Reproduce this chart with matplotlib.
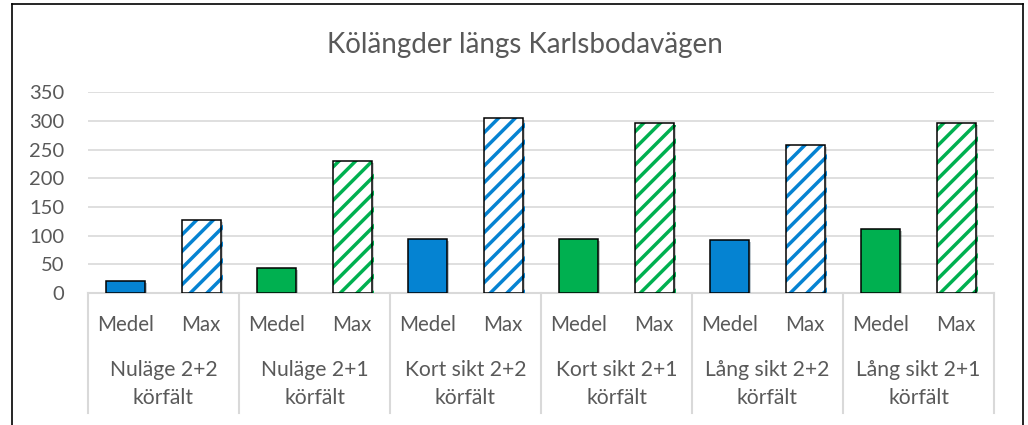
import matplotlib
matplotlib.use("Agg")
import matplotlib.pyplot as plt
import matplotlib.patheffects as pe
from matplotlib.lines import Line2D
import numpy as np

plt.rcParams['font.family'] = ['Lato', 'DejaVu Sans']
plt.rcParams['hatch.linewidth'] = 2.5

# data
groups = ['Nuläge 2+2\nkörfält', 'Nuläge 2+1\nkörfält', 'Kort sikt 2+2\nkörfält',
          'Kort sikt 2+1\nkörfält', 'Lång sikt 2+2\nkörfält', 'Lång sikt 2+1\nkörfält']
sub_labels = ['Medel', 'Max']
medel = [21, 44, 94, 95, 93, 112]
maxv = [128, 230, 306, 296, 258, 297]
group_colors = ['#0583D2', '#00B050', '#0583D2', '#00B050', '#0583D2', '#00B050']
yticks = [0, 50, 100, 150, 200, 250, 300, 350]

W, H = 1028, 425
fig = plt.figure(figsize=(W / 100, H / 100), dpi=100)
ax = fig.add_axes([88 / W, (H - 293) / H, (994 - 88) / W, 200.7 / H])

txt = '#595959'
grid = '#D9D9D9'
bw = 0.52
shadow = [pe.SimplePatchShadow(offset=(1.5, -1.5), alpha=0.25), pe.Normal()]

for i in range(len(groups)):
    c = group_colors[i]
    x0 = 2 * i
    # Medel: solid
    ax.bar(x0, medel[i], width=bw, color=c, edgecolor='black', linewidth=1.1,
           zorder=3, path_effects=shadow)
    # Max: hatched
    ax.bar(x0 + 1, maxv[i], width=bw, color='white', edgecolor=c, hatch='//',
           linewidth=0, zorder=3, path_effects=shadow)
    ax.bar(x0 + 1, maxv[i], width=bw, fill=False, edgecolor='black',
           linewidth=1.1, zorder=4)

ax.set_xlim(-0.5, 2 * len(groups) - 0.5)
ax.set_ylim(0, 350)
ax.set_yticks(yticks)
ax.set_yticklabels([str(v) for v in yticks])
ax.tick_params(axis='y', length=0, pad=17, labelsize=14.5, labelcolor=txt)
ax.set_xticks([])
ax.yaxis.grid(True, color=grid, linewidth=1.2)
ax.set_axisbelow(True)
for s in ['top', 'right', 'left']:
    ax.spines[s].set_visible(False)
ax.spines['bottom'].set_color(grid)
ax.spines['bottom'].set_linewidth(1.5)

tr = ax.get_xaxis_transform()
# multi-level category axis
for k in range(len(groups) + 1):
    ax.add_line(Line2D([2 * k - 0.5, 2 * k - 0.5], [0, -0.598], transform=tr,
                       color=grid, linewidth=1.5, clip_on=False))
for i, g in enumerate(groups):
    for j, s in enumerate(sub_labels):
        ax.text(2 * i + j, -0.158, s, transform=tr, ha='center', va='center',
                fontsize=14.8, color=txt)
    ax.text(2 * i + 0.5, -0.452, g, transform=tr, ha='center', va='center',
            fontsize=15.2, color=txt, linespacing=1.5)

fig.text(525 / W, 1 - 45 / H, 'Kölängder längs Karlsbodavägen', ha='center',
         va='center', fontsize=20, color=txt)

# outer chart frame (bottom edge is cut off)
for xs, ys in [([12, 12], [3.5, H + 5]), ([12, 1023], [3.5, 3.5]), ([1023, 1023], [3.5, H + 5])]:
    fig.add_artist(Line2D([x / W for x in xs], [1 - y / H for y in ys],
                          transform=fig.transFigure, color='black', linewidth=1.2))

fig.savefig('out.png', dpi=100)
